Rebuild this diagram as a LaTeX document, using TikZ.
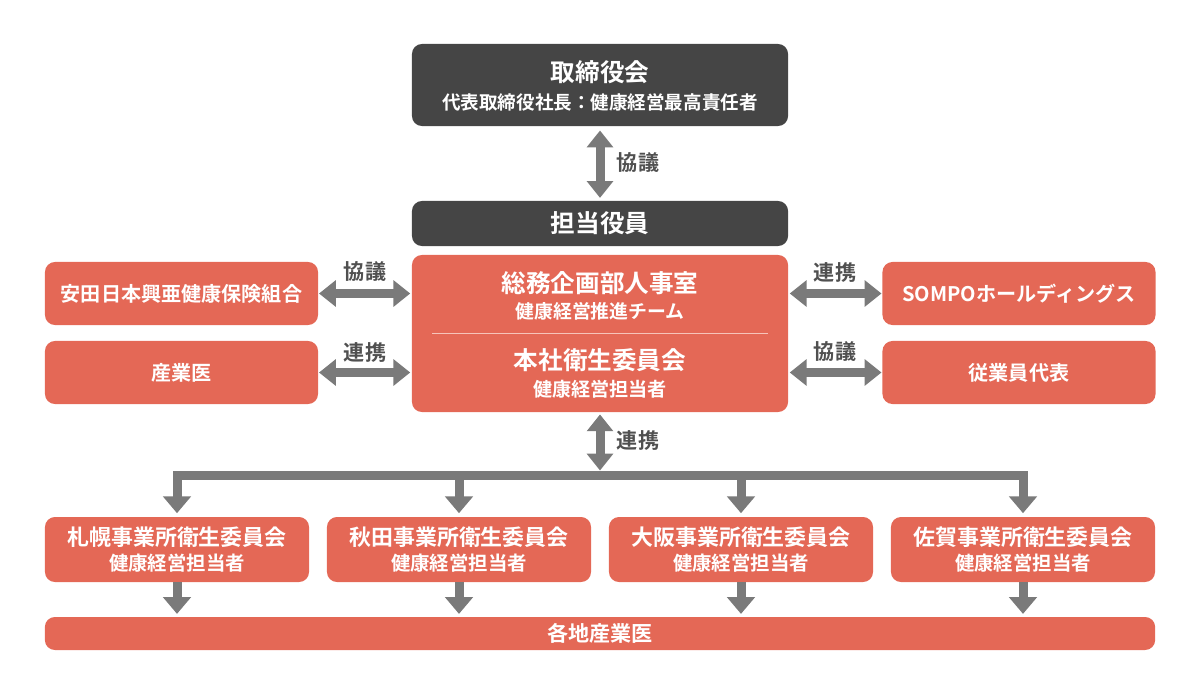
\documentclass[tikz,border=0pt]{standalone}
\usepackage{fontspec}
\setmainfont{Noto Sans CJK JP}[BoldFont={Noto Sans CJK JP Bold}]
\usetikzlibrary{arrows.meta}

\definecolor{boxred}{RGB}{228,104,86}
\definecolor{boxdark}{RGB}{69,69,69}
\definecolor{flowgray}{RGB}{122,122,122}
\definecolor{labelgray}{RGB}{80,80,80}
\definecolor{seprule}{RGB}{246,196,186}

\begin{document}
\begin{tikzpicture}[x=0.025cm, y=-0.025cm,
  every node/.style={font=\bfseries},
  darkbox/.style={fill=boxdark, rounded corners=0.25cm, text=white, inner sep=0pt, minimum width=9.4cm},
  redbox/.style={fill=boxred, rounded corners=0.25cm, text=white, inner sep=0pt},
  sidebox/.style={redbox, minimum width=6.825cm, minimum height=1.575cm, font=\fontsize{14.3}{16}\bfseries},
  sitebox/.style={redbox, minimum width=6.6cm, minimum height=1.625cm},
  txt/.style={text=white, inner sep=0pt},
  lbl/.style={text=labelgray, inner sep=0pt, font=\fontsize{15}{17}\bfseries},
  both/.style={draw=flowgray, line width=0.225cm, {Triangle[length=0.42cm, width=0.64cm]}-{Triangle[length=0.42cm, width=0.64cm]}},
  flow/.style={draw=flowgray, line width=0.225cm, -{Triangle[length=0.42cm, width=0.68cm]}}
]

  \useasboundingbox (0,0) rectangle (1197,672);

  % Top: board and officer
  \node[darkbox, minimum height=2.05cm] (board) at (600,85) {};
  \node[txt, font=\fontsize{17.5}{20}\bfseries] (boardT) at (600,72) {取締役会};
  \node[txt, font=\fontsize{13.2}{15}\bfseries] (boardS) at (600,102) {代表取締役社長：健康経営最高責任者};
  \node[darkbox, minimum height=1.125cm, font=\fontsize{17.5}{20}\bfseries] (officer) at (600,223.5) {担当役員};

  % Centre box, two parts
  \node[redbox, minimum width=9.4cm, minimum height=3.925cm] (hq) at (600,333.5) {};
  \node[txt, font=\fontsize{17.5}{20}\bfseries] (hqT) at (600,283) {総務企画部人事室};
  \node[txt, font=\fontsize{13.4}{15}\bfseries] (hqS) at (600,311) {健康経営推進チーム};
  \draw[seprule, line width=0.6pt] (432,333) -- (768,333);
  \node[txt, font=\fontsize{17.5}{20}\bfseries] (ehT) at (600,360) {本社衛生委員会};
  \node[txt, font=\fontsize{13.6}{15}\bfseries] (ehS) at (600,389) {健康経営担当者};

  % Side partners
  \node[sidebox] (kenpo) at (181.5,293.5) {安田日本興亜健康保険組合};
  \node[sidebox] (doctor) at (181.5,372.5) {産業医};
  \node[sidebox] (sompo) at (1019,293.5) {SOMPOホールディングス};
  \node[sidebox] (staff) at (1019,372.5) {従業員代表};

  % Site committees
  \node[sitebox] (sapporo) at (177,549.5) {};
  \node[sitebox] (akita) at (459,549.5) {};
  \node[sitebox] (osaka) at (741,549.5) {};
  \node[sitebox] (saga) at (1023,549.5) {};
  \node[txt, font=\fontsize{15.6}{18}\bfseries] (sapporoT) at (177,537) {札幌事業所衛生委員会};
  \node[txt, font=\fontsize{15.6}{18}\bfseries] (akitaT) at (459,537) {秋田事業所衛生委員会};
  \node[txt, font=\fontsize{15.6}{18}\bfseries] (osakaT) at (741,537) {大阪事業所衛生委員会};
  \node[txt, font=\fontsize{15.6}{18}\bfseries] (sagaT) at (1023,537) {佐賀事業所衛生委員会};
  \foreach \b in {sapporo,akita,osaka,saga}
    \node[txt, font=\fontsize{13.8}{15}\bfseries] (\b S) at (\b.center |- 0,563) {健康経営担当者};

  \node[redbox, minimum width=27.75cm, minimum height=0.825cm, font=\fontsize{15}{17}\bfseries] (localdr) at (600,633.5) {各地産業医};

  % Connectors
  \draw[both, shorten <=3pt, shorten >=2pt] (board.south) -- (officer.north);
  \node[lbl] (talk1) at (638,163) {協議};

  \draw[both, shorten <=0.5pt, shorten >=1pt] (kenpo.east) -- (kenpo.east -| hq.west);
  \node[lbl] (talk2) at (365,272) {協議};
  \draw[both, shorten <=0.5pt, shorten >=1pt] (doctor.east) -- (doctor.east -| hq.west);
  \node[lbl] (link1) at (365,352) {連携};
  \draw[both, shorten <=1pt, shorten >=0.5pt] (sompo.west -| hq.east) -- (sompo.west);
  \node[lbl] (link2) at (835,272) {連携};
  \draw[both, shorten <=1pt, shorten >=0.5pt] (staff.west -| hq.east) -- (staff.west);
  \node[lbl] (talk3) at (835,352) {協議};

  \coordinate (bus) at (600,475);
  \draw[both, shorten <=1.5pt, shorten >=3.2pt] (hq.south) -- (bus);
  \node[lbl] (link3) at (638,440) {連携};
  \foreach \b in {sapporo,akita,osaka,saga} {
    \draw[flow, shorten >=2.5pt] (bus) -| (\b.north);
    \draw[flow, shorten >=2pt] (\b.south) -- (\b.south |- localdr.north);
  }

\end{tikzpicture}
\end{document}
